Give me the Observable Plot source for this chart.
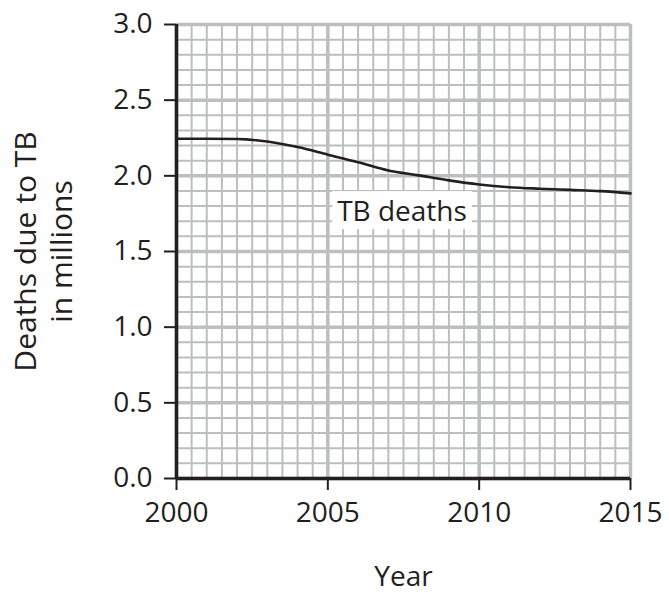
<!DOCTYPE html>
<html>
<head>
<meta charset="utf-8">
<script src="https://cdn.jsdelivr.net/npm/d3@7"></script>
<script src="https://cdn.jsdelivr.net/npm/@observablehq/plot@0.6"></script>
<style>
  html, body { margin: 0; padding: 0; background: #fff; }
  #chart svg { display: block; }
</style>
</head>
<body>
<div id="chart"></div>
<script>
const years = [2000, 2001, 2002, 2003, 2004, 2005, 2006, 2007, 2008, 2009, 2010, 2011, 2012, 2013, 2014, 2015];
const deaths = [2.245, 2.245, 2.243, 2.227, 2.19, 2.14, 2.09, 2.035, 2.003, 1.97, 1.943, 1.925, 1.915, 1.907, 1.899, 1.884];
const xTicks = [2000, 2005, 2010, 2015];
const yTicks = [0, 0.5, 1.0, 1.5, 2.0, 2.5, 3.0];
const seriesLabel = "TB deaths";
const labelPos = {year: 2007.45, value: 1.76};
const xTitle = "Year";
const yTitle = "Deaths due to TB\nin millions";

const data = years.map((y, i) => ({year: y, value: deaths[i]}));
const ink = "#231f20";
const gridColor = "#bcbec0";
const font = "Open Sans";

const minorX = d3.range(2000, 2015.001, 0.5);
const minorY = d3.range(0, 3.0001, 0.1).map(v => +v.toFixed(1));

const chart = Plot.plot({
  width: 669,
  height: 597,
  marginLeft: 176,
  marginRight: 39,
  marginTop: 24,
  marginBottom: 119,
  style: {fontFamily: font, color: ink, background: "#fff"},
  x: {domain: [2000, 2015], label: null},
  y: {domain: [0, 3], label: null},
  marks: [
    Plot.gridX(minorX, {stroke: gridColor, strokeOpacity: 1, strokeWidth: 2}),
    Plot.gridY(minorY, {stroke: gridColor, strokeOpacity: 1, strokeWidth: 2}),
    Plot.gridX(xTicks, {stroke: gridColor, strokeOpacity: 1, strokeWidth: 3.5}),
    Plot.gridY(yTicks, {stroke: gridColor, strokeOpacity: 1, strokeWidth: 3.5}),
    Plot.line(data, {x: "year", y: "value", stroke: ink, strokeWidth: 2.6, curve: "monotone-x"}),
    Plot.text([labelPos], {x: "year", y: "value", text: () => seriesLabel, fontSize: 28, fill: ink, fontFamily: font, className: "series-label"}),
    Plot.axisX({ticks: xTicks, tickSize: 12, tickPadding: 12, tickFormat: d => String(d), fontSize: 28, stroke: ink, strokeWidth: 2, label: null, fill: ink}),
    Plot.axisY({ticks: yTicks, tickSize: 12, tickPadding: 12, tickFormat: d3.format(".1f"), fontSize: 28, stroke: ink, strokeWidth: 2, label: null, fill: ink}),
    Plot.ruleX([2000], {stroke: ink, strokeWidth: 3.5}),
    Plot.ruleY([0], {stroke: ink, strokeWidth: 3.5}),
    Plot.text([xTitle], {frameAnchor: "bottom", text: d => d, lineAnchor: "top", dy: 88, fontSize: 28, fill: ink}),
    Plot.text([yTitle], {frameAnchor: "left", textAnchor: "middle", text: d => d, rotate: -90, dx: -134, lineHeight: 1.2, fontSize: 30, fill: ink})
  ]
});

document.getElementById("chart").appendChild(chart);

// white box behind the series label
const lbl = chart.querySelector(".series-label text");
if (lbl) {
  const b = lbl.getBBox();
  const padX = 5, padY = 0;
  const rect = document.createElementNS("http://www.w3.org/2000/svg", "rect");
  rect.setAttribute("x", b.x - padX);
  rect.setAttribute("y", b.y - padY);
  rect.setAttribute("width", b.width + 2 * padX);
  rect.setAttribute("height", b.height + 2 * padY);
  rect.setAttribute("fill", "#fff");
  const g = lbl.parentNode;
  const tr = lbl.getAttribute("transform");
  if (tr) rect.setAttribute("transform", tr);
  g.insertBefore(rect, lbl);
}
</script>
</body>
</html>
